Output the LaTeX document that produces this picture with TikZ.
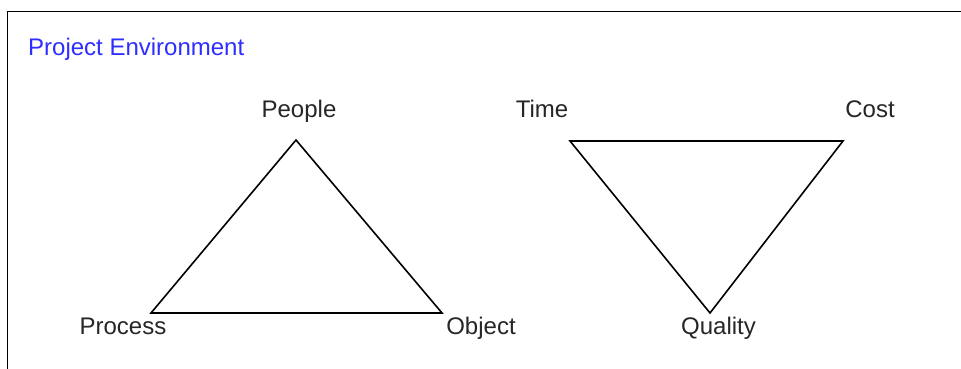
\documentclass[tikz,border=0pt]{standalone}
\usepackage{fontspec}
\setmainfont{Liberation Sans}
\definecolor{titleblue}{HTML}{2E2EFF}
\definecolor{labelgray}{HTML}{262626}
\begin{document}
\begin{tikzpicture}[x=1pt,y=-1pt,
  lbl/.style={font=\fontsize{24}{28}\selectfont, text=labelgray, anchor=base, inner sep=0pt},
  ttl/.style={font=\fontsize{24}{28}\selectfont, text=titleblue, anchor=base west, inner sep=0pt},
  edge/.style={draw=black, line width=1.6pt, line join=miter},
  frame/.style={draw=black, line width=1.8pt}]
\useasboundingbox (0,0) rectangle (961,369);
\fill[white] (0,0) rectangle (961,369);
% frame
\coordinate (fbl) at (7.5,372);
\coordinate (ftl) at (7.5,11.5);
\coordinate (ftr) at (964,11.5);
\draw[frame] (fbl) -- (ftl) -- (ftr);
% title
\node[ttl] (title) at (28,56) {Project Environment};
% triangle 1
\coordinate (peopleV) at (296,140);
\coordinate (processV) at (151,313);
\coordinate (objectV) at (442,313);
\draw[edge] (peopleV) -- (processV) -- (objectV) -- cycle;
% triangle 2
\coordinate (timeV) at (570,141);
\coordinate (costV) at (843,141);
\coordinate (qualityV) at (710,313);
\draw[edge] (timeV) -- (costV) -- (qualityV) -- cycle;
% labels
\node[lbl] (people) at (299,117) {People};
\node[lbl] (time) at (542,117) {Time};
\node[lbl] (cost) at (870,117) {Cost};
\node[lbl] (process) at (123,334) {Process};
\node[lbl] (object) at (481,334) {Object};
\node[lbl] (quality) at (718.5,334) {Quality};
\end{tikzpicture}
\end{document}
